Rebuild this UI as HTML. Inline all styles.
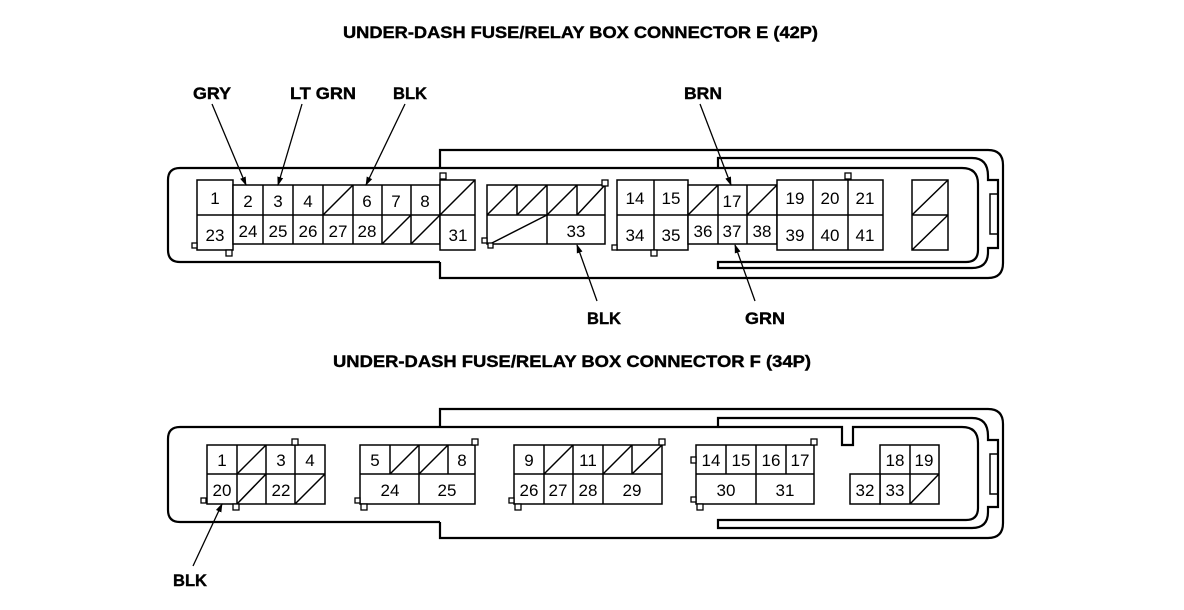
<!DOCTYPE html>
<html><head><meta charset="utf-8"><style>
html,body{margin:0;padding:0;background:#fff;}
svg{display:block;}
.t{font-family:"Liberation Sans",Arial,sans-serif;font-weight:bold;font-size:17px;fill:#000;stroke:#000;stroke-width:0.4;}
.n{font-family:"Liberation Sans",Arial,sans-serif;font-size:17px;fill:#000;text-anchor:middle;}
.c{fill:#fff;stroke:#000;stroke-width:1.5;}
.h{fill:none;stroke:#000;stroke-width:2.2;}
.s{stroke:#000;stroke-width:1.5;}
.q{fill:#fff;stroke:#000;stroke-width:1.3;}
</style></head><body>
<svg width="1184" height="610" viewBox="0 0 1184 610" xmlns="http://www.w3.org/2000/svg">
<defs><marker id="a" markerWidth="9" markerHeight="8" refX="8" refY="4" orient="auto" markerUnits="userSpaceOnUse"><path d="M0,1 L9,4 L0,7 Z" fill="#000"/></marker></defs>

<text class="t" x="343" y="38" textLength="475" lengthAdjust="spacingAndGlyphs">UNDER-DASH FUSE/RELAY BOX CONNECTOR E (42P)</text>
<text class="t" x="193" y="99" textLength="38" lengthAdjust="spacingAndGlyphs">GRY</text>
<text class="t" x="290" y="99" textLength="66" lengthAdjust="spacingAndGlyphs">LT GRN</text>
<text class="t" x="393" y="99" textLength="34" lengthAdjust="spacingAndGlyphs">BLK</text>
<text class="t" x="684" y="99" textLength="38" lengthAdjust="spacingAndGlyphs">BRN</text>
<text class="t" x="587" y="324" textLength="34" lengthAdjust="spacingAndGlyphs">BLK</text>
<text class="t" x="745" y="324" textLength="40" lengthAdjust="spacingAndGlyphs">GRN</text>

<path class="h" d="M440,168 L180,168 Q168,168 168,180 L168,250 Q168,262 180,262 L440,262"/>
<path class="h" d="M440,168 L440,150 L988,150 Q1003,150 1003,165 L1003,263 Q1003,278 988,278 L440,278 L440,262"/>
<path class="h" d="M440,168 L962,168 Q978,168 978,184 L978,250 Q978,262 966,262 L718,262 L718,268 L972,268 Q988,268 988,252 L988,248 L998,248 L998,180 L988,180 L988,176 Q988,158 972,158 L718,158 L718,168"/>
<rect class="h" x="990" y="194" width="8" height="40" style="stroke-width:1.5"/>

<rect class="c" x="197" y="180" width="36" height="70"/>
<line class="s" x1="197" y1="215" x2="233" y2="215"/>
<rect class="q" x="192" y="243" width="5" height="5"/>
<rect class="q" x="226" y="250" width="6" height="6"/>
<rect class="c" x="233" y="185" width="207" height="59"/>
<line class="s" x1="233" y1="215" x2="440" y2="215"/>
<line class="s" x1="263" y1="185" x2="263" y2="244"/>
<line class="s" x1="293" y1="185" x2="293" y2="244"/>
<line class="s" x1="323" y1="185" x2="323" y2="244"/>
<line class="s" x1="353" y1="185" x2="353" y2="244"/>
<line class="s" x1="382" y1="185" x2="382" y2="244"/>
<line class="s" x1="411" y1="185" x2="411" y2="244"/>
<line class="s" x1="323" y1="215" x2="353" y2="185"/>
<line class="s" x1="382" y1="244" x2="411" y2="215"/>
<line class="s" x1="411" y1="244" x2="440" y2="215"/>
<rect class="c" x="440" y="180" width="35" height="70"/>
<line class="s" x1="440" y1="215" x2="475" y2="215"/>
<line class="s" x1="440" y1="215" x2="475" y2="180"/>
<rect class="q" x="440" y="173" width="6" height="6"/>
<g class="n">
<text x="215" y="204">1</text><text x="215" y="241">23</text>
<text x="248" y="207">2</text><text x="278" y="207">3</text><text x="308" y="207">4</text>
<text x="367" y="207">6</text><text x="396" y="207">7</text><text x="425" y="207">8</text>
<text x="248" y="237">24</text><text x="278" y="237">25</text><text x="308" y="237">26</text>
<text x="338" y="237">27</text><text x="367" y="237">28</text>
<text x="458" y="241">31</text>
</g>

<rect class="c" x="487" y="185" width="118" height="59"/>
<line class="s" x1="487" y1="215" x2="605" y2="215"/>
<line class="s" x1="517" y1="185" x2="517" y2="215"/>
<line class="s" x1="547" y1="185" x2="547" y2="244"/>
<line class="s" x1="577" y1="185" x2="577" y2="215"/>
<line class="s" x1="487" y1="215" x2="517" y2="185"/>
<line class="s" x1="517" y1="215" x2="547" y2="185"/>
<line class="s" x1="547" y1="215" x2="577" y2="185"/>
<line class="s" x1="577" y1="215" x2="605" y2="185"/>
<line class="s" x1="490" y1="244" x2="547" y2="215"/>
<rect class="q" x="602" y="180" width="6" height="6"/>
<rect class="q" x="482" y="238" width="5" height="5"/>
<rect class="q" x="488" y="243" width="5" height="5"/>
<text class="n" x="576" y="237">33</text>

<rect class="c" x="617" y="180" width="71" height="70"/>
<line class="s" x1="617" y1="215" x2="688" y2="215"/>
<line class="s" x1="654" y1="180" x2="654" y2="250"/>
<rect class="q" x="612" y="245" width="5" height="5"/>
<rect class="q" x="651" y="250" width="6" height="6"/>
<rect class="c" x="688" y="185" width="89" height="59"/>
<line class="s" x1="688" y1="215" x2="777" y2="215"/>
<line class="s" x1="718" y1="185" x2="718" y2="244"/>
<line class="s" x1="747" y1="185" x2="747" y2="244"/>
<line class="s" x1="688" y1="215" x2="718" y2="185"/>
<line class="s" x1="747" y1="215" x2="777" y2="185"/>
<rect class="c" x="777" y="180" width="106" height="70"/>
<line class="s" x1="777" y1="215" x2="883" y2="215"/>
<line class="s" x1="813" y1="180" x2="813" y2="250"/>
<line class="s" x1="848" y1="180" x2="848" y2="250"/>
<rect class="q" x="845" y="173" width="6" height="6"/>
<rect class="c" x="912" y="180" width="36" height="70"/>
<line class="s" x1="912" y1="215" x2="948" y2="215"/>
<line class="s" x1="912" y1="215" x2="948" y2="180"/>
<line class="s" x1="912" y1="250" x2="948" y2="215"/>
<g class="n">
<text x="635" y="204">14</text><text x="671" y="204">15</text>
<text x="635" y="241">34</text><text x="671" y="241">35</text>
<text x="732" y="207">17</text>
<text x="703" y="237">36</text><text x="732" y="237">37</text><text x="762" y="237">38</text>
<text x="795" y="204">19</text><text x="830" y="204">20</text><text x="865" y="204">21</text>
<text x="795" y="241">39</text><text x="830" y="241">40</text><text x="865" y="241">41</text>
</g>

<g class="s" style="stroke-width:1.3">
<line x1="212" y1="104" x2="246" y2="185" marker-end="url(#a)"/>
<line x1="302" y1="104" x2="278" y2="185" marker-end="url(#a)"/>
<line x1="405" y1="104" x2="366" y2="185" marker-end="url(#a)"/>
<line x1="700" y1="104" x2="731" y2="185" marker-end="url(#a)"/>
<line x1="597" y1="301" x2="577" y2="245" marker-end="url(#a)"/>
<line x1="755" y1="301" x2="735" y2="245" marker-end="url(#a)"/>
</g>

<text class="t" x="333" y="367" textLength="478" lengthAdjust="spacingAndGlyphs">UNDER-DASH FUSE/RELAY BOX CONNECTOR F (34P)</text>
<text class="t" x="173" y="586" textLength="34" lengthAdjust="spacingAndGlyphs">BLK</text>

<path class="h" d="M440,427 L180,427 Q168,427 168,439 L168,510 Q168,522 180,522 L440,522"/>
<path class="h" d="M440,427 L440,409 L988,409 Q1003,409 1003,424 L1003,523 Q1003,538 988,538 L440,538 L440,522"/>
<path class="h" d="M440,427 L842,427 L842,445 L853,445 L853,427 L962,427 Q978,427 978,443 L978,508 Q978,520 966,520 L718,520 L718,528 L972,528 Q988,528 988,512 L988,507 L998,507 L998,440 L988,440 L988,436 Q988,418 972,418 L718,418 L718,427"/>
<rect class="h" x="990" y="454" width="8" height="40" style="stroke-width:1.5"/>

<rect class="c" x="207" y="445" width="118" height="59"/>
<line class="s" x1="207" y1="474" x2="325" y2="474"/>
<line class="s" x1="237" y1="445" x2="237" y2="504"/>
<line class="s" x1="266" y1="445" x2="266" y2="504"/>
<line class="s" x1="295" y1="445" x2="295" y2="504"/>
<line class="s" x1="237" y1="474" x2="266" y2="445"/>
<line class="s" x1="237" y1="504" x2="266" y2="474"/>
<line class="s" x1="295" y1="504" x2="325" y2="474"/>
<rect class="q" x="292" y="439" width="6" height="6"/>
<rect class="q" x="201" y="498" width="5" height="5"/>
<rect class="q" x="233" y="504" width="6" height="6"/>
<rect class="c" x="360" y="445" width="115" height="59"/>
<line class="s" x1="360" y1="474" x2="475" y2="474"/>
<line class="s" x1="390" y1="445" x2="390" y2="474"/>
<line class="s" x1="419" y1="445" x2="419" y2="504"/>
<line class="s" x1="448" y1="445" x2="448" y2="474"/>
<line class="s" x1="390" y1="474" x2="419" y2="445"/>
<line class="s" x1="419" y1="474" x2="448" y2="445"/>
<rect class="q" x="472" y="439" width="6" height="6"/>
<rect class="q" x="355" y="498" width="5" height="5"/>
<rect class="q" x="361" y="504" width="6" height="6"/>
<rect class="c" x="514" y="445" width="148" height="59"/>
<line class="s" x1="514" y1="474" x2="662" y2="474"/>
<line class="s" x1="544" y1="445" x2="544" y2="504"/>
<line class="s" x1="573" y1="445" x2="573" y2="504"/>
<line class="s" x1="603" y1="445" x2="603" y2="504"/>
<line class="s" x1="632" y1="445" x2="632" y2="474"/>
<line class="s" x1="544" y1="474" x2="573" y2="445"/>
<line class="s" x1="603" y1="474" x2="632" y2="445"/>
<line class="s" x1="632" y1="474" x2="662" y2="445"/>
<rect class="q" x="659" y="439" width="6" height="6"/>
<rect class="q" x="509" y="498" width="5" height="5"/>
<rect class="q" x="515" y="504" width="6" height="6"/>
<rect class="c" x="696" y="445" width="118" height="59"/>
<line class="s" x1="696" y1="474" x2="814" y2="474"/>
<line class="s" x1="726" y1="445" x2="726" y2="474"/>
<line class="s" x1="756" y1="445" x2="756" y2="504"/>
<line class="s" x1="786" y1="445" x2="786" y2="474"/>
<rect class="q" x="811" y="439" width="6" height="6"/>
<rect class="q" x="691" y="457" width="5" height="6"/>
<rect class="q" x="691" y="497" width="5" height="5"/>
<rect class="q" x="697" y="504" width="6" height="6"/>
<rect class="c" x="880" y="445" width="59" height="59"/>
<rect class="c" x="850" y="474" width="30" height="30"/>
<line class="s" x1="880" y1="474" x2="939" y2="474"/>
<line class="s" x1="910" y1="445" x2="910" y2="504"/>
<line class="s" x1="910" y1="504" x2="939" y2="474"/>

<g class="n">
<text x="222" y="466">1</text><text x="281" y="466">3</text><text x="310" y="466">4</text>
<text x="222" y="496">20</text><text x="281" y="496">22</text>
<text x="375" y="466">5</text><text x="462" y="466">8</text>
<text x="390" y="496">24</text><text x="447" y="496">25</text>
<text x="529" y="466">9</text><text x="588" y="466">11</text>
<text x="529" y="496">26</text><text x="558" y="496">27</text><text x="588" y="496">28</text><text x="632" y="496">29</text>
<text x="711" y="466">14</text><text x="741" y="466">15</text><text x="771" y="466">16</text><text x="800" y="466">17</text>
<text x="726" y="496">30</text><text x="785" y="496">31</text>
<text x="895" y="466">18</text><text x="924" y="466">19</text>
<text x="865" y="496">32</text><text x="895" y="496">33</text>
</g>
<line class="s" style="stroke-width:1.3" x1="193" y1="566" x2="222" y2="504" marker-end="url(#a)"/>
</svg>
</body></html>
